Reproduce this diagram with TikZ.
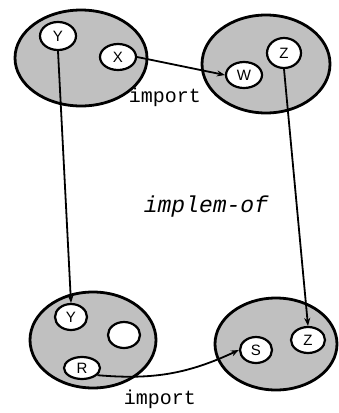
\documentclass[tikz,border=0pt]{standalone}
\usepackage{fontspec}
\setsansfont{Liberation Sans}
\setmonofont{Liberation Mono}
\usepackage{tikz}
\usetikzlibrary{shapes.geometric,arrows.meta,positioning}
\definecolor{cShade}{RGB}{192,192,192}
\tikzset{
  modnode/.style={ellipse,draw=black,line width=1.4pt,fill=cShade,inner sep=0pt},
  itemnode/.style={ellipse,draw=black,line width=1.1pt,fill=white,inner sep=0pt,
                   minimum width=17pt,minimum height=13pt,font=\sffamily\fontsize{7.5}{8}\selectfont},
  arr/.style={-{Stealth[length=4pt,width=3pt]},line width=0.9pt},
  lbl/.style={font=\ttfamily\fontsize{10}{12}\selectfont}
}
\begin{document}
\begin{tikzpicture}[x=0.5pt,y=-0.5pt]
  \useasboundingbox (0,0) rectangle (338,413);

  % the four modules
  \node[modnode,minimum width=66pt,minimum height=48pt] (tl) at (81,58) {};
  \node[modnode,minimum width=64pt,minimum height=49pt] (tr) at (266,64) {};
  \node[modnode,minimum width=63pt,minimum height=48pt] (bl) at (93,340) {};
  \node[modnode,minimum width=61pt,minimum height=46pt] (br) at (276,344) {};

  % items inside them
  \node[itemnode,minimum width=18pt,minimum height=14pt] (y)  at (58,36)  {Y};
  \node[itemnode,minimum width=18pt] (x)  at (118,57) {X};
  \node[itemnode,minimum width=18pt] (w)  at (244,75) {W};
  \node[itemnode,minimum height=15pt] (z)  at (284,53) {Z};
  \node[itemnode,minimum width=16pt] (y2) at (71,317) {Y};
  \node[itemnode,minimum width=16pt] (e)  at (124,335) {};
  \node[itemnode,minimum width=18pt,minimum height=11pt] (r)  at (82,368) {R};
  \node[itemnode,minimum width=16pt] (s)  at (256,350) {S};
  \node[itemnode] (z2) at (308,340) {Z};

  % labels
  \node[lbl] (imptop) at (165,97) {import};
  \node[lbl] (impbot) at (160,399) {import};
  \node[lbl,font=\ttfamily\itshape\fontsize{11.5}{13}\selectfont] (impl) at (206,207) {implem-of};

  \draw[arr] (x.east) -- (w.west);
  \draw[arr] (y.south) -- (y2.north);
  \draw[arr] (z.south) -- (z2.north);
  \draw[arr] (r.-25) to[out=-5,in=205] (s.west);

\end{tikzpicture}
\end{document}
